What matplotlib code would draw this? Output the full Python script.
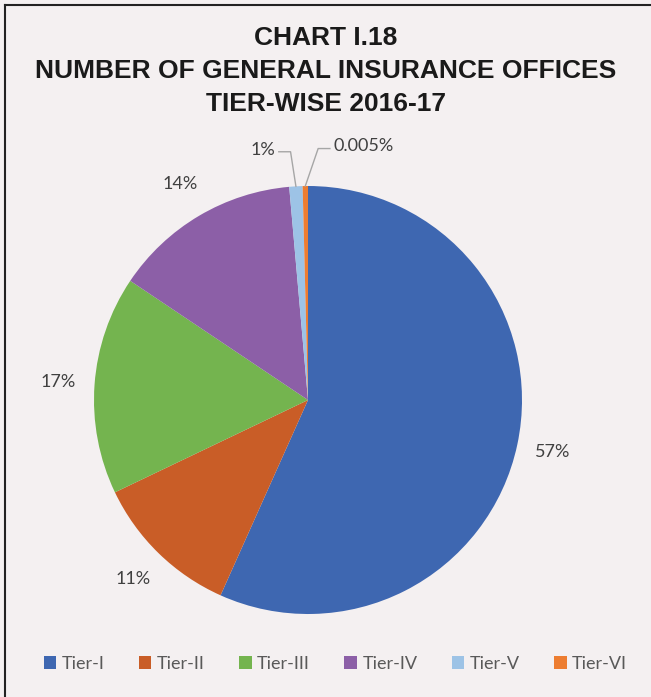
import numpy as np
import matplotlib
matplotlib.use('Agg')
import matplotlib.pyplot as plt
from matplotlib.lines import Line2D
from matplotlib.patches import Patch

tiers = ['Tier-I', 'Tier-II', 'Tier-III', 'Tier-IV', 'Tier-V', 'Tier-VI']
shares = [56.7, 11.2, 16.5, 14.2, 1.0, 0.4]
share_labels = ['57%', '11%', '17%', '14%', '1%', '0.005%']
colors = ['#3E67B1', '#C95D27', '#74B44F', '#8C5FA7', '#9DC3E6', '#ED7D31']

title = 'CHART I.18\nNUMBER OF GENERAL INSURANCE OFFICES\nTIER-WISE 2016-17'

bg = '#F4F0F1'
label_font = ['Lato', 'DejaVu Sans']

fig = plt.figure(figsize=(6.51, 6.97), dpi=100, facecolor=bg)

# pie centred at about (308, 400) px with radius 214 px
cx, cy, r = 308 / 651, 1 - 400 / 697, 214
ax = fig.add_axes([cx - r / 651, cy - r / 697, 2 * r / 651, 2 * r / 697])
ax.set_facecolor(bg)
ax.axis('off')

wedges, _ = ax.pie(shares, colors=colors, startangle=90, counterclock=False,
                   radius=1.0, wedgeprops=dict(linewidth=0))
ax.set_xlim(-1, 1)
ax.set_ylim(-1, 1)
ax.set_aspect('equal')

# labels for the big slices, placed along each slice's mid angle
for w, lab in zip(wedges[:4], share_labels[:4]):
    ang = np.deg2rad((w.theta1 + w.theta2) / 2)
    ax.text(1.17 * np.cos(ang), 1.17 * np.sin(ang), lab, ha='center', va='center',
            fontsize=13, color='#404040', family=label_font)

# leader lines for the two thin slices
for w, lab, side in [(wedges[4], share_labels[4], -1), (wedges[5], share_labels[5], 1)]:
    ang = np.deg2rad((w.theta1 + w.theta2) / 2)
    x0, y0 = np.cos(ang), np.sin(ang)
    elbow = (x0 - 0.025 if side < 0 else x0 + 0.06, 1.16 if side < 0 else 1.175)
    end = (elbow[0] + side * 0.055, elbow[1])
    ax.plot([x0, elbow[0], end[0]], [y0, elbow[1], end[1]], color='#A6A6A6',
            lw=1.0, clip_on=False)
    ax.text(end[0] + side * 0.015, end[1] + 0.01, lab, ha='right' if side < 0 else 'left',
            va='center', fontsize=13, color='#404040', family=label_font)

fig.text(0.5, 1 - 71 / 697, title, ha='center', va='center', fontsize=19, fontweight='bold',
         family=['Liberation Sans', 'DejaVu Sans'], color='#1A1A1A',
         linespacing=1.45)

handles = [Patch(facecolor=c, edgecolor='none') for c in colors]
fig.legend(handles, tiers, loc='center', bbox_to_anchor=(0.515, 1 - 664 / 697), ncol=6,
           frameon=False, handlelength=0.7, handleheight=0.7, handletextpad=0.3,
           columnspacing=1.9, prop=dict(family=label_font, size=13), labelcolor='#595959')

# frame on top and left
fig.add_artist(Line2D([5 / 651, 5 / 651], [0, 1 - 5 / 697], color='#222222', lw=1.5))
fig.add_artist(Line2D([5 / 651, 1], [1 - 5 / 697, 1 - 5 / 697], color='#222222', lw=1.5))

fig.savefig('out.png', dpi=100, facecolor=bg)
